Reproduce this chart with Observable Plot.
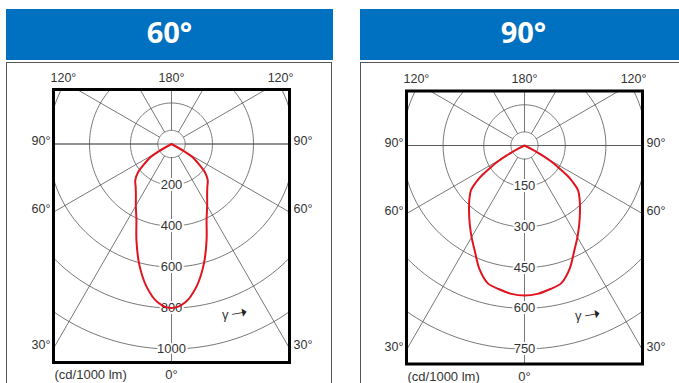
<!DOCTYPE html>
<html><head><meta charset="utf-8">
<script src="https://cdn.jsdelivr.net/npm/d3@7"></script>
<script src="https://cdn.jsdelivr.net/npm/@observablehq/plot@0.6"></script>
<style>
html,body{margin:0;padding:0;background:#fff;width:679px;height:383px;overflow:hidden;}
.panel{position:absolute;width:327px;height:400px;}
.hdr{position:absolute;left:0;top:0;width:327px;height:51px;box-sizing:border-box;padding-bottom:6px;background:#0070c0;color:#fff;font:bold 29px "Open Sans",sans-serif;display:flex;align-items:center;justify-content:center;}
.frame{position:absolute;left:0;top:53px;width:324px;height:400px;border:1.5px solid #555;}
.chart{position:absolute;left:0;top:53px;}
</style></head><body>
<div id="p1" class="panel" style="left:6px;top:9px"></div>
<div id="p2" class="panel" style="left:360px;top:9px"></div>
<script>
// ---- data ----
const titles = ["60°", "90°"];
// gamma angle (deg from nadir) and luminous intensity (cd/1000 lm)
const gamma60 = [0, 5, 10, 15, 20, 25, 30, 35, 40, 45, 50, 53, 56, 58, 60, 62];
const cd60    = [800, 775, 705, 608, 500, 405, 348, 303, 272, 250, 212, 172, 140, 118, 72, 0];
const gamma90 = [0, 5, 10, 15, 20, 25, 30, 35, 40, 45, 50, 53, 55, 57, 59, 61, 63, 65];
const cd90    = [553, 549, 538, 525, 485, 432, 390, 352, 318, 288, 258, 222, 190, 150, 115, 75, 35, 0];
const rings60 = [200, 400, 600, 800, 1000];
const rings90 = [150, 300, 450, 600, 750];
const spokeAngles = [0, 30, 60, 90, 120, 150, 180, 210, 240, 270, 300, 330];
const sideAngles = [90, 60, 30];
const topLabels = ["120°", "180°", "120°"];
const unitLabel = "(cd/1000 lm)";
const nadirLabel = "0°";
const gammaLabel = "γ";
const arrowGlyph = "➝";

const rad = Math.PI / 180;
const GRID = "#555";

function polarChart({gammas, cds, rings, ringPx, mLeft, mTop}) {
  const step = rings[1] - rings[0];
  const u = step / ringPx;           // data units per pixel
  const boxW = 236, upPx = 54.5, downPx = 218.5;
  const xMax = (boxW / 2) * u, yUp = upPx * u, yDown = downPx * u;
  const inner = step / 3;
  const far = rings[rings.length - 1] * 2;
  const W = 327, H = 330;
  const px = (r, g) => r * Math.sin(g * rad);
  const py = (r, g) => -r * Math.cos(g * rad);
  const circ = [...rings, inner].flatMap(r => d3.range(0, 361, 2).map(a => ({r, a})));
  const pts = gammas.map((g, i) => ({g, r: cds[i]}));
  const curve = [...pts.slice(1).reverse().map(p => ({g: -p.g, r: p.r})), ...pts];
  const sideY = a => -xMax * Math.cos(a * rad) / Math.sin(a * rad);
  return Plot.plot({
    width: W, height: H,
    marginLeft: mLeft, marginRight: W - mLeft - boxW,
    marginTop: mTop, marginBottom: H - mTop - (upPx + downPx),
    x: {domain: [-xMax, xMax], axis: null},
    y: {domain: [-yDown, yUp], axis: null},
    style: {fontFamily: "'Liberation Sans', Arial, sans-serif", fontSize: "12.5px", color: "#333", background: "transparent", overflow: "visible"},
    marks: [
      Plot.line(circ, {x: d => px(d.r, d.a), y: d => py(d.r, d.a), z: "r", stroke: GRID, strokeWidth: 0.8, clip: true}),
      Plot.link(spokeAngles, {x1: a => px(inner, a), y1: a => py(inner, a), x2: a => px(far, a), y2: a => py(far, a), stroke: GRID, strokeWidth: 0.8, clip: true}),
      Plot.ruleY([0], {stroke: GRID, strokeWidth: 0.8}),
      Plot.frame({stroke: "#000", strokeWidth: 3}),
      Plot.text(rings, {x: () => 0, y: r => -r, text: r => String(r), fontSize: 13, fill: "#333", stroke: "white", strokeWidth: 4, paintOrder: "stroke"}),
      Plot.text(sideAngles, {x: () => -xMax, y: sideY, text: a => a + "°", textAnchor: "end", dx: -3, dy: -3}),
      Plot.text(sideAngles, {x: () => xMax, y: sideY, text: a => a + "°", textAnchor: "start", dx: 4, dy: -3}),
      Plot.text([topLabels[0]], {frameAnchor: "top-left", lineAnchor: "middle", text: d => d, textAnchor: "start", dx: -3, dy: -12}),
      Plot.text([topLabels[1]], {frameAnchor: "top", lineAnchor: "middle", text: d => d, dy: -12}),
      Plot.text([topLabels[2]], {frameAnchor: "top-right", lineAnchor: "middle", text: d => d, textAnchor: "end", dx: 4, dy: -12}),
      Plot.text([unitLabel], {frameAnchor: "bottom-left", lineAnchor: "middle", text: d => d, textAnchor: "start", dx: 1, dy: 12.5, fontSize: 13}),
      Plot.text([nadirLabel], {frameAnchor: "bottom", lineAnchor: "middle", text: d => d, dy: 12.5, fontSize: 13}),
      Plot.text([gammaLabel], {frameAnchor: "bottom-right", lineAnchor: "middle", text: d => d, dx: -61, dy: -48, fontSize: 13}),
      Plot.text([arrowGlyph], {frameAnchor: "bottom-right", lineAnchor: "middle", text: d => d, dx: -42, dy: -51, fontSize: 20, fill: "#222", rotate: -10, fontFamily: "DejaVu Sans"}),
      Plot.line(curve, {x: d => px(d.r, d.g), y: d => py(d.r, d.g), stroke: "#e0141e", strokeWidth: 2, curve: "catmull-rom"})
    ]
  });
}

const cfgs = [
  {id: "p1", title: titles[0], gammas: gamma60, cds: cd60, rings: rings60, ringPx: 41, mLeft: 47, mTop: 27},
  {id: "p2", title: titles[1], gammas: gamma90, cds: cd90, rings: rings90, ringPx: 40.7, mLeft: 46, mTop: 28.5}
];
for (const c of cfgs) {
  const p = document.getElementById(c.id);
  const h = document.createElement("div"); h.className = "hdr"; h.textContent = c.title; p.appendChild(h);
  const f = document.createElement("div"); f.className = "frame"; p.appendChild(f);
  const ch = document.createElement("div"); ch.className = "chart"; ch.appendChild(polarChart(c)); p.appendChild(ch);
}
</script>
</body></html>
